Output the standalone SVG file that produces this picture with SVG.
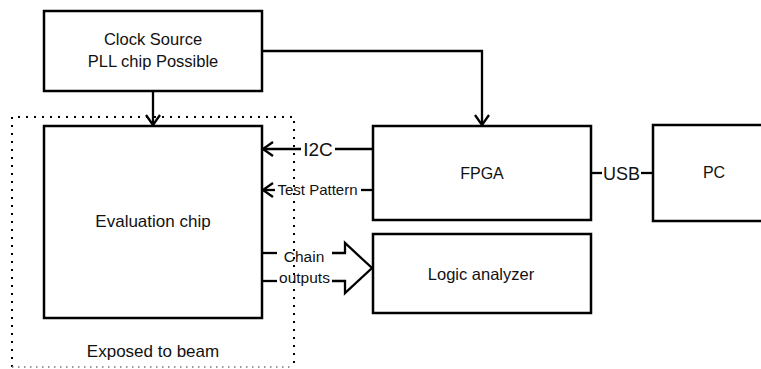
<svg xmlns="http://www.w3.org/2000/svg" width="761" height="369" viewBox="0 0 761 369">
<defs>
<style>
.box{fill:#fff;stroke:#000;stroke-width:2.5}
.ln{fill:none;stroke:#000;stroke-width:2.3}
.t{font-family:"Liberation Sans",Arial,sans-serif;fill:#111;text-anchor:middle}
</style>
<marker id="arr" viewBox="0 0 12 16" refX="11" refY="8" markerWidth="12" markerHeight="16" markerUnits="userSpaceOnUse" orient="auto">
<path d="M1,1 L11,8 L1,15" fill="none" stroke="#000" stroke-width="2.3"/>
</marker>
</defs>
<rect width="761" height="369" fill="#fff"/>
<g id="exposed-region">
<path d="M12,367 L12,117 L294,117 L294,367" fill="none" stroke="#000" stroke-width="2" stroke-dasharray="2 6"/>
<path d="M12,367 L294,367" fill="none" stroke="#777" stroke-width="1.5" stroke-dasharray="1.5 4.5"/>
<text class="t" x="153" y="357" font-size="17">Exposed to beam</text>
</g>
<g id="clock-source">
<rect class="box" x="44" y="11" width="218" height="80"/>
<text class="t" x="153" y="45" font-size="16.5">Clock Source</text>
<text class="t" x="153" y="67" font-size="16.5">PLL chip Possible</text>
</g>
<g id="evaluation-chip">
<rect class="box" x="44" y="126" width="218" height="192"/>
<text class="t" x="153" y="227" font-size="17">Evaluation chip</text>
</g>
<g id="fpga">
<rect class="box" x="373" y="126" width="218" height="94"/>
<text class="t" x="482" y="179" font-size="16">FPGA</text>
</g>
<g id="pc">
<rect class="box" x="653" y="125" width="120" height="96"/>
<text class="t" x="714" y="178" font-size="16">PC</text>
</g>
<g id="logic-analyzer">
<rect class="box" x="373" y="234" width="218" height="79"/>
<text class="t" x="481" y="280" font-size="16.5">Logic analyzer</text>
</g>
<g id="connectors">
<path class="ln" d="M153,91 L153,125" marker-end="url(#arr)"/>
<path class="ln" d="M262,51 L482,51 L482,125" marker-end="url(#arr)"/>
<path class="ln" d="M301,149 L263,149" marker-end="url(#arr)"/>
<path class="ln" d="M373,149 L335,149"/>
<text class="t" x="318" y="156" font-size="19">I2C</text>
<path class="ln" d="M275,190 L263,190" marker-end="url(#arr)"/>
<path class="ln" d="M373,190 L361,190"/>
<text class="t" x="317.5" y="195" font-size="15">Test Pattern</text>
<path class="ln" d="M591,173 L602,173"/>
<path class="ln" d="M641,173 L653,173"/>
<text class="t" x="621.5" y="180" font-size="18">USB</text>
<path class="ln" d="M262,253 L277,253"/>
<path class="ln" d="M262,281 L277,281"/>
<path class="ln" d="M332,253 L345,253 L345,243 L372,268 L345,293 L345,281 L332,281" stroke-linejoin="miter"/>
<text class="t" x="304" y="262" font-size="15.5">Chain</text>
<text class="t" x="304.5" y="283" font-size="15.5">outputs</text>
</g>
</svg>
